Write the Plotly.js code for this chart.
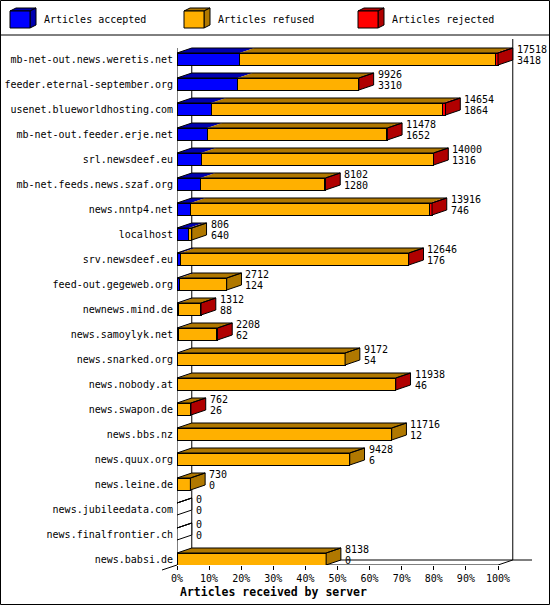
<!DOCTYPE html>
<html>
<head>
<meta charset="utf-8">
<script src="https://cdn.plot.ly/plotly-3.0.1.min.js"></script>
<style>
	body { margin: 0; background: #fff; }
	#chart { width: 550px; height: 605px; }
</style>
</head>
<body>
<div id="chart"></div>
<script>
var servers = [
	"mb-net-out.news.weretis.net", "feeder.eternal-september.org", "usenet.blueworldhosting.com",
	"mb-net-out.feeder.erje.net", "srl.newsdeef.eu", "mb-net.feeds.news.szaf.org",
	"news.nntp4.net", "localhost", "srv.newsdeef.eu", "feed-out.gegeweb.org",
	"newnews.mind.de", "news.samoylyk.net", "news.snarked.org", "news.nobody.at",
	"news.swapon.de", "news.bbs.nz", "news.quux.org", "news.leine.de",
	"news.jubileedata.com", "news.finalfrontier.ch", "news.babsi.de"
];
var offered  = [17518, 9926, 14654, 11478, 14000, 8102, 13916, 806, 12646, 2712, 1312, 2208, 9172, 11938, 762, 11716, 9428, 730, 0, 0, 8138];
var accepted = [3418, 3310, 1864, 1652, 1316, 1280, 746, 640, 176, 124, 88, 62, 54, 46, 26, 12, 6, 0, 0, 0, 0];
var refused  = [13950, 6576, 12620, 9796, 12664, 6782, 13050, 166, 12450, 2588, 1214, 2106, 9118, 11882, 726, 11704, 9422, 730, 0, 0, 8138];
var rejected = [150, 40, 170, 30, 20, 40, 120, 0, 20, 0, 10, 40, 0, 10, 10, 0, 0, 0, 0, 0, 0];
var seriesNames = ["Articles accepted", "Articles refused", "Articles rejected"];
var tickPercents = [0, 10, 20, 30, 40, 50, 60, 70, 80, 90, 100];

const font = "DejaVu Sans Mono, monospace";
const fronts = ["#0000ff", "#ffb000", "#ff0000"];
const shades = ["#0000b0", "#b07800", "#b00000"];
const depthX = 4.6;   // depth of the 3d effect, in % units
const depthY = 0.2;   // and in rows
const half = 0.24;

// plot area in pixels, used for the paper-placed decorations
const plotLeft = 177, plotTop = 37, plotW = 371, plotH = 528;
function px(x) { return (x - plotLeft) / plotW; }
function py(y) { return (plotTop + plotH - y) / plotH; }

var maxOffered = Math.max.apply(null, offered);
function pct(n) { return n / maxOffered * 100; }

function poly(pts) {
	return "M" + pts.map(function (p) { return p[0] + "," + p[1]; }).join("L") + "Z";
}

var rows = servers.map(function (s, i) { return i; });
var series = [accepted, refused, rejected];

var data = series.map(function (values, k) {
	return {
		type: "bar",
		orientation: "h",
		name: seriesNames[k],
		y: rows,
		x: values.map(pct),
		width: 2 * half,
		marker: { color: fronts[k], line: { color: "#000", width: 1 } },
		hoverinfo: "none"
	};
});

var shapes = [];
var annotations = [];
var black = { color: "#000", width: 1 };

// walls and floor
shapes.push({ type: "line", xref: "x", yref: "y", x0: 0, x1: 0, y0: -half - depthY, y1: 20 + half, line: black, layer: "below" });
shapes.push({ type: "line", xref: "x", yref: "y", x0: depthX, x1: depthX, y0: -half - depthY, y1: 20 + half - depthY, line: black, layer: "below" });
shapes.push({ type: "line", xref: "x", yref: "y", x0: 100 + depthX, x1: 100 + depthX, y0: -0.8, y1: 20 + half - depthY, line: black, layer: "below" });
shapes.push({ type: "line", xref: "x", yref: "y", x0: 0, x1: 100, y0: 20 + half, y1: 20 + half, line: black, layer: "below" });
shapes.push({ type: "line", xref: "x", yref: "y", x0: depthX, x1: 100 + depthX + 6, y0: 20 + half - depthY, y1: 20 + half - depthY, line: black, layer: "below" });
shapes.push({ type: "line", xref: "x", yref: "y", x0: 100, x1: 100 + depthX, y0: 20 + half, y1: 20 + half - depthY, line: black, layer: "below" });
shapes.push({ type: "line", xref: "paper", yref: "paper", x0: px(162), x1: px(177), y0: py(570), y1: py(565), line: black });

rows.forEach(function (i) {
	var top = i - half, bot = i + half;
	var x0 = 0, last = -1;
	series.forEach(function (values, k) {
		if (values[i] <= 0) return;
		var x1 = x0 + pct(values[i]);
		shapes.push({
			type: "path", xref: "x", yref: "y",
			path: poly([[x0, top], [x0 + depthX, top - depthY], [x1 + depthX, top - depthY], [x1, top]]),
			fillcolor: shades[k], line: { width: 0 }
		});
		x0 = x1;
		last = k;
	});
	shapes.push({
		type: "path", xref: "x", yref: "y",
		path: poly([[x0, top], [x0 + depthX, top - depthY], [x0 + depthX, bot - depthY], [x0, bot]]),
		fillcolor: last >= 0 ? shades[last] : "#fff", line: black
	});
	shapes.push({
		type: "path", xref: "x", yref: "y",
		path: poly([[0, top], [depthX, top - depthY], [x0 + depthX, top - depthY], [x0, top]]),
		fillcolor: "rgba(0,0,0,0)", line: black
	});

	annotations.push({
		xref: "x", yref: "y", x: pct(offered[i]) + depthX, y: i - 0.4,
		text: String(offered[i]), xanchor: "left", yanchor: "middle", xshift: 2,
		showarrow: false, font: { family: font, size: 10, color: "#000" }
	});
	annotations.push({
		xref: "x", yref: "y", x: pct(offered[i]) + depthX, y: i + 0.04,
		text: String(accepted[i]), xanchor: "left", yanchor: "middle", xshift: 2,
		showarrow: false, font: { family: font, size: 10, color: "#000" }
	});
});

// legend boxes across the top
var legendX = [10, 184, 358];
seriesNames.forEach(function (name, k) {
	var x = legendX[k];
	shapes.push({ type: "path", xref: "paper", yref: "paper",
		path: poly([[px(x), py(11)], [px(x + 6), py(8)], [px(x + 26), py(8)], [px(x + 20), py(11)]]),
		fillcolor: shades[k], line: black });
	shapes.push({ type: "path", xref: "paper", yref: "paper",
		path: poly([[px(x + 20), py(11)], [px(x + 26), py(8)], [px(x + 26), py(25)], [px(x + 20), py(28)]]),
		fillcolor: shades[k], line: black });
	shapes.push({ type: "rect", xref: "paper", yref: "paper",
		x0: px(x), x1: px(x + 20), y0: py(11), y1: py(28),
		fillcolor: fronts[k], line: black });
	annotations.push({
		xref: "paper", yref: "paper", x: px(x + 32), y: py(20),
		text: name, xanchor: "left", yanchor: "middle", showarrow: false,
		font: { family: font, size: 10, color: "#000" }
	});
});
shapes.push({ type: "line", xref: "paper", yref: "paper", x0: px(0), x1: px(550), y0: py(35), y1: py(35), line: black });
shapes.push({ type: "rect", xref: "paper", yref: "paper", x0: px(0.5), x1: px(549.5), y0: py(0.5), y1: py(604.5), line: black });

annotations.push({
	xref: "paper", yref: "paper", x: px(178), y: py(592),
	text: "<b>Articles received by server</b>", xanchor: "left", yanchor: "middle",
	showarrow: false, font: { family: font, size: 11.5, color: "#000" }
});

var layout = {
	width: 550,
	height: 605,
	margin: { l: plotLeft, r: 550 - plotLeft - plotW, t: plotTop, b: 605 - plotTop - plotH, pad: 0 },
	barmode: "stack",
	showlegend: false,
	paper_bgcolor: "#fff",
	plot_bgcolor: "#fff",
	font: { family: font, size: 10, color: "#000" },
	xaxis: {
		range: [0, plotW / 3.21],
		tickmode: "array",
		tickvals: tickPercents,
		ticktext: tickPercents.map(function (p) { return p + "%"; }),
		ticks: "outside", ticklen: 4, tickcolor: "#000", tickwidth: 1,
		showgrid: false, zeroline: false, showline: false, fixedrange: true,
		tickfont: { family: font, size: 10, color: "#000" }
	},
	yaxis: {
		range: [20 + half, -0.88],
		tickmode: "array",
		tickvals: rows,
		ticktext: servers,
		ticks: "", showgrid: false, zeroline: false, showline: false, fixedrange: true,
		ticklabelstandoff: 3,
		tickfont: { family: font, size: 10, color: "#000" }
	},
	shapes: shapes,
	annotations: annotations
};

Plotly.newPlot("chart", data, layout, { displayModeBar: false, staticPlot: true });
</script>
</body>
</html>
